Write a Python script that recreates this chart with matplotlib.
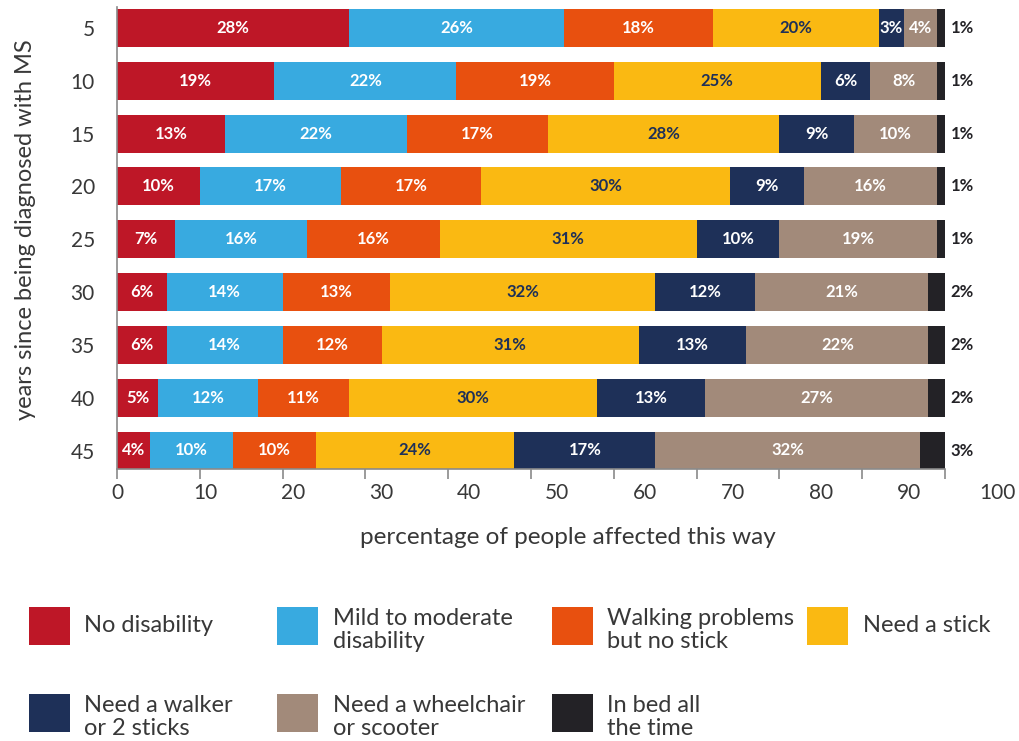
import matplotlib
matplotlib.use("Agg")
import matplotlib.pyplot as plt
from matplotlib.patches import Rectangle
import numpy as np

plt.rcParams['font.family'] = ['Lato', 'DejaVu Sans']

years = ["5", "10", "15", "20", "25", "30", "35", "40", "45"]
categories = ["No disability", "Mild to moderate\ndisability", "Walking problems\nbut no stick",
              "Need a stick", "Need a walker\nor 2 sticks", "Need a wheelchair\nor scooter",
              "In bed all\nthe time"]
no_disability = [28, 19, 13, 10, 7, 6, 6, 5, 4]
mild_moderate = [26, 22, 22, 17, 16, 14, 14, 12, 10]
walking_problems = [18, 19, 17, 17, 16, 13, 12, 11, 10]
need_stick = [20, 25, 28, 30, 31, 32, 31, 30, 24]
need_walker = [3, 6, 9, 9, 10, 12, 13, 13, 17]
need_wheelchair = [4, 8, 10, 16, 19, 21, 22, 27, 32]
in_bed = [1, 1, 1, 1, 1, 2, 2, 2, 3]
x_ticks = [0, 10, 20, 30, 40, 50, 60, 70, 80, 90, 100]

series = [no_disability, mild_moderate, walking_problems, need_stick,
          need_walker, need_wheelchair, in_bed]
colors = ["#BE1727", "#38AAE0", "#E8500F", "#FAB912", "#1E3058", "#A28A7A", "#232226"]
label_colors = ["white", "white", "white", "#1E3058", "white", "white", "#232226"]

W, H = 1020, 741
fig = plt.figure(figsize=(W / 100, H / 100), dpi=100)

def fx(px):
    return px / W

def fy(py):
    return 1 - py / H

ax_left, ax_right, ax_top, ax_bottom = 117, 945, 7, 469.3
ax = fig.add_axes([fx(ax_left), fy(ax_bottom), fx(ax_right - ax_left), (ax_bottom - ax_top) / H])

ypos = np.arange(len(years))
left = np.zeros(len(years))
text_dark = "#383838"
for i, vals in enumerate(series):
    vals = np.array(vals, dtype=float)
    bars = ax.barh(ypos, vals, left=left, height=0.72, color=colors[i], edgecolor='none')
    labels = [f"{int(v)}%" for v in vals]
    if i == len(series) - 1:
        ax.bar_label(bars, labels=labels, label_type='edge', padding=4,
                     color=label_colors[i], fontsize=12, fontweight='bold')
    else:
        ax.bar_label(bars, labels=labels, label_type='center',
                     color=label_colors[i], fontsize=12, fontweight='bold')
    left += vals

ax.set_xlim(0, 100)
ax.set_ylim(len(years) - 1 + 0.353, -0.397)
ax.set_yticks(ypos)
ax.set_yticklabels(years, fontsize=15, color=text_dark)
ax.tick_params(axis='y', length=0, pad=16)
ax.set_xticks(x_ticks)
ax.set_xticklabels([])
ax.tick_params(axis='x', length=7.5, width=1.2, color="#8a8a8a", direction='out')
for s in ['top', 'right']:
    ax.spines[s].set_visible(False)
for s in ['left', 'bottom']:
    ax.spines[s].set_color("#8a8a8a")
    ax.spines[s].set_linewidth(1.2)

# axis titles
fig.text(fx(26), fy(230), "years since being diagnosed with MS", fontsize=17,
         color=text_dark, rotation=90, ha='center', va='center', rotation_mode='anchor')
fig.text(fx(567.5), fy(538), "percentage of people affected this way", fontsize=17.5,
         color=text_dark, ha='center', va='center')

# tick label axis (labels drawn evenly across a slightly wider span as in the reference)
ax2 = fig.add_axes([fx(117), fy(ax_bottom), fx(997 - 117), 0.0001])
ax2.set_xlim(0, 100)
ax2.set_xticks(x_ticks)
ax2.set_xticklabels([str(t) for t in x_ticks], fontsize=15, color=text_dark)
ax2.tick_params(axis='x', length=0, pad=10)
ax2.set_yticks([])
for s in ax2.spines.values():
    s.set_visible(False)
ax2.patch.set_visible(False)

# legend
leg_rows = [(607, 645), (694, 732)]
patch_x = [29, 277, 552, 807]
text_x = [84, 333, 607, 863]
for k, (name, col) in enumerate(zip(categories, colors)):
    r, c = divmod(k, 4)
    top, bot = leg_rows[r]
    fig.patches.append(Rectangle((fx(patch_x[c]), fy(bot)), fx(41), (bot - top) / H,
                                 transform=fig.transFigure, facecolor=col, edgecolor='none'))
    cy = (top + bot) / 2 + (4 if "\n" in name else 0)
    fig.text(fx(text_x[c]), fy(cy), name, fontsize=17, color=text_dark,
             va='center', ha='left', linespacing=1.15)

fig.savefig("out.png", dpi=100)
